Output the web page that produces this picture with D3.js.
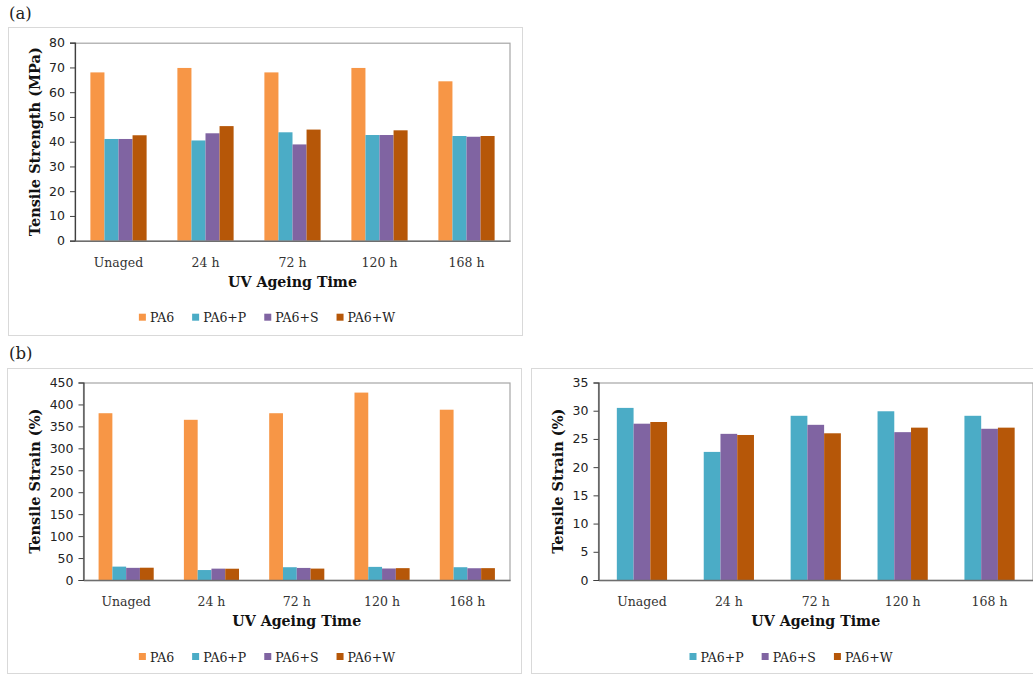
<!DOCTYPE html>
<html>
<head>
<meta charset="utf-8">
<script src="https://cdn.jsdelivr.net/npm/d3@7"></script>
<style>
  html, body { margin: 0; padding: 0; background: #ffffff; }
  svg { display: block; }
</style>
</head>
<body>
<svg id="chart" width="1033" height="675"></svg>
<script>
// ---------------- DATA ----------------
const categories = ["Unaged", "24 h", "72 h", "120 h", "168 h"];
const seriesAll = ["PA6", "PA6+P", "PA6+S", "PA6+W"];
const seriesComposite = ["PA6+P", "PA6+S", "PA6+W"];

// (a) Tensile strength (MPa)
const strengthPA6 = [68.0, 69.8, 68.0, 69.8, 64.4];
const strengthP   = [41.1, 40.5, 43.8, 42.7, 42.3];
const strengthS   = [41.1, 43.4, 38.9, 42.7, 42.0];
const strengthW   = [42.6, 46.3, 44.9, 44.6, 42.3];

// (b) Tensile strain (%)
const strainPA6 = [380, 365, 380, 427, 388];
const strainP   = [30.5, 22.7, 29.1, 29.9, 29.1];
const strainS   = [27.7, 25.9, 27.5, 26.2, 26.8];
const strainW   = [28.0, 25.7, 26.0, 27.0, 27.0];

const ticksStrength = [0, 10, 20, 30, 40, 50, 60, 70, 80];
const ticksStrainAll = [0, 50, 100, 150, 200, 250, 300, 350, 400, 450];
const ticksStrainComp = [0, 5, 10, 15, 20, 25, 30, 35];

const colors = { "PA6": "#F79646", "PA6+P": "#4BACC6", "PA6+S": "#8064A2", "PA6+W": "#B65708" };

// ---------------- DRAWING ----------------
const svg = d3.select("#chart");
const serif = "'DejaVu Serif', serif";
const sans = "'DejaVu Sans', sans-serif";

svg.append("text").attr("x", 9).attr("y", 19)
  .attr("font-family", serif).attr("font-size", 16.5).attr("fill", "#222").text("(a)");
svg.append("text").attr("x", 9).attr("y", 359)
  .attr("font-family", serif).attr("font-size", 16.5).attr("fill", "#222").text("(b)");

function drawPanel(cfg) {
  const g = svg.append("g");
  // outer chart box
  g.append("rect").attr("x", cfg.box[0] + 0.5).attr("y", cfg.box[1] + 0.5)
    .attr("width", cfg.box[2]).attr("height", cfg.box[3])
    .attr("fill", "#fff").attr("stroke", "#D9D9D9").attr("stroke-width", 1);

  const [px0, px1, pyTop, pyBot] = cfg.plot;
  const y = d3.scaleLinear().domain([0, cfg.yMax]).range([pyBot, pyTop]);
  const x0 = d3.scaleBand().domain(categories).range([px0, px1]).padding(0);
  const n = cfg.series.length;
  const bw = x0.bandwidth() / (n + 2.19);
  const x1 = d3.scaleBand().domain(cfg.series)
    .range([bw * 1.095, bw * 1.095 + bw * n]).padding(0);

  // plot border
  g.append("rect").attr("x", px0).attr("y", pyTop + 0.5)
    .attr("width", px1 - px0).attr("height", pyBot - pyTop)
    .attr("fill", "none").attr("stroke", "#A6A6A6").attr("stroke-width", 1.2);

  // bars
  const rows = categories.map((c, i) => ({ cat: c, vals: cfg.series.map((s, k) => ({ s, v: cfg.values[k][i] })) }));
  const grp = g.selectAll("g.cat").data(rows).join("g")
    .attr("transform", d => `translate(${x0(d.cat)},0)`);
  grp.selectAll("rect").data(d => d.vals).join("rect")
    .attr("x", d => x1(d.s)).attr("width", x1.bandwidth())
    .attr("y", d => y(d.v)).attr("height", d => y(0) - y(d.v))
    .attr("fill", d => colors[d.s]);

  // y axis
  const yAxis = d3.axisLeft(y).tickValues(cfg.ticks).tickSize(5).tickPadding(5).tickFormat(d3.format("d"));
  const ya = g.append("g").attr("transform", `translate(${px0},0)`).call(yAxis);
  ya.select(".domain").attr("stroke", "#404040").attr("stroke-width", 1.2);
  ya.selectAll(".tick line").attr("stroke", "#404040");
  ya.selectAll(".tick text").attr("font-family", sans).attr("font-size", 12.5).attr("fill", "#222");

  // x axis
  const xAxis = d3.axisBottom(x0).tickSize(0).tickPadding(17);
  const xa = g.append("g").attr("transform", `translate(0,${pyBot})`).call(xAxis);
  xa.select(".domain").attr("stroke", "#6E6E6E").attr("stroke-width", 1.4);
  xa.selectAll(".tick text").attr("font-family", serif).attr("font-size", 12.5).attr("fill", "#333");

  // titles
  g.append("text").attr("x", (px0 + px1) / 2).attr("y", pyBot + 46)
    .attr("text-anchor", "middle").attr("font-family", serif).attr("font-weight", "bold")
    .attr("font-size", 14.2).attr("fill", "#111").text("UV Ageing Time");
  g.append("text")
    .attr("transform", `translate(${cfg.yTitleX},${(pyTop + pyBot) / 2}) rotate(-90)`)
    .attr("text-anchor", "middle").attr("font-family", serif).attr("font-weight", "bold")
    .attr("font-size", 14.5).attr("fill", "#111").text(cfg.yTitle);

  // legend
  const lg = g.append("g");
  let cx = 0;
  cfg.series.forEach(s => {
    const it = lg.append("g").attr("transform", `translate(${cx},0)`);
    it.append("rect").attr("x", 0).attr("y", -4).attr("width", 7).attr("height", 7).attr("fill", colors[s]);
    const t = it.append("text").attr("x", 11).attr("y", 4.5)
      .attr("font-family", serif).attr("font-size", 12.5).attr("fill", "#222").text(s);
    const w = t.node().getComputedTextLength();
    cx += 11 + w + 18;
  });
  const total = cx - 18;
  lg.attr("transform", `translate(${cfg.legendCX - total / 2},${pyBot + 77})`);
}

drawPanel({
  box: [8, 27, 514, 308], plot: [75, 510, 42.7, 240.7], yMax: 80, ticks: ticksStrength,
  series: seriesAll, values: [strengthPA6, strengthP, strengthS, strengthW],
  yTitle: "Tensile Strength (MPa)", yTitleX: 40, legendCX: 267
});
drawPanel({
  box: [7, 368, 514, 305], plot: [83.5, 510, 382.5, 580], yMax: 450, ticks: ticksStrainAll,
  series: seriesAll, values: [strainPA6, strainP, strainS, strainW],
  yTitle: "Tensile Strain (%)", yTitleX: 40, legendCX: 267
});
drawPanel({
  box: [531, 368, 520, 305], plot: [598.5, 1033, 382.5, 580], yMax: 35, ticks: ticksStrainComp,
  series: seriesComposite, values: [strainP, strainS, strainW],
  yTitle: "Tensile Strain (%)", yTitleX: 563, legendCX: 791
});
</script>
</body>
</html>
